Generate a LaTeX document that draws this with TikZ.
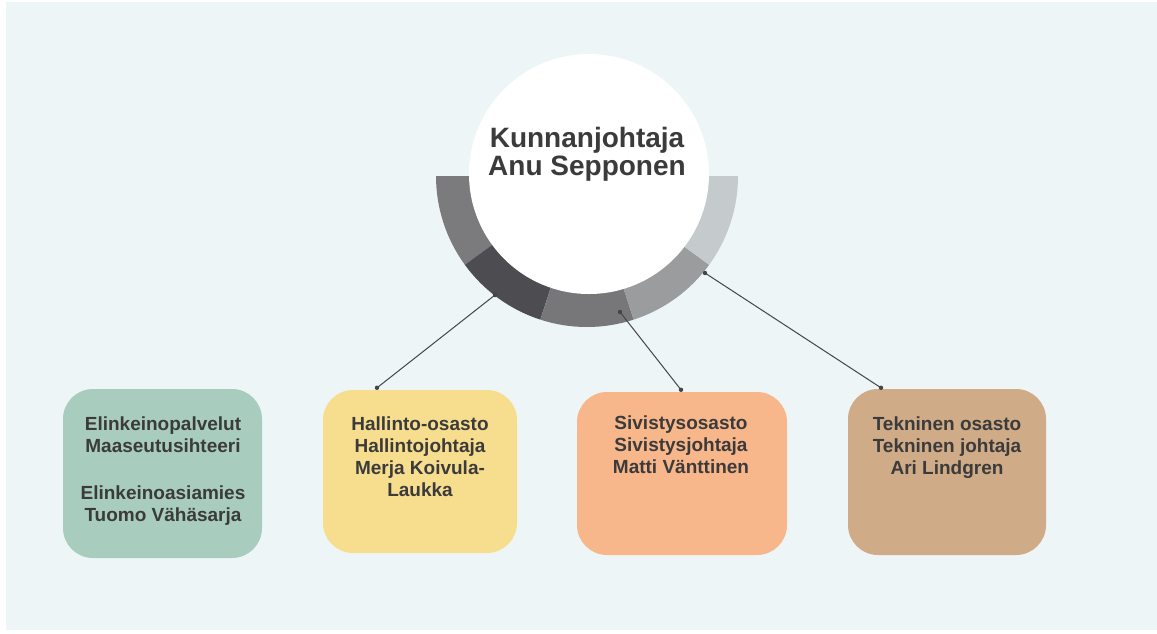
\documentclass[tikz,border=0pt]{standalone}
\usepackage{fontspec}
\setmainfont{Liberation Sans}
\usetikzlibrary{calc}
\definecolor{bg}{HTML}{EDF5F7}
\definecolor{txt}{HTML}{3B3B3B}
\definecolor{segA}{HTML}{7B7B7E}
\definecolor{segB}{HTML}{4D4C50}
\definecolor{segC}{HTML}{77777A}
\definecolor{segD}{HTML}{9A9C9E}
\definecolor{segE}{HTML}{C5CACC}
\definecolor{boxgreen}{HTML}{A8CCBD}
\definecolor{boxyellow}{HTML}{F7DE8F}
\definecolor{boxorange}{HTML}{F8B68B}
\definecolor{boxtan}{HTML}{CFAB87}
\definecolor{linec}{HTML}{454547}
\tikzset{
  deptbox/.style={draw=none, rounded corners=30pt, inner sep=0pt},
  depttext/.style={anchor=north, inner sep=0pt, align=center, text=txt,
    font=\fontsize{19}{22}\selectfont\bfseries},
  conn/.style={draw=linec, line width=1pt},
  dotc/.style={fill=linec}
}
\begin{document}
\begin{tikzpicture}[x=1pt,y=-1pt]
\useasboundingbox (0,0) rectangle (1157,633);
\fill[white] (0,0) rectangle (1157,633);
\fill[bg] (6,2) rectangle (1157,630);

% ring segments
\coordinate (rc) at (587,176);
\foreach \a/\b/\c in {180/144/segA,144/108/segB,108/72/segC,72/36/segD,36/0/segE}{
  \fill[\c] ($(rc)+(\a:151)$) arc[start angle=\a, end angle=\b, radius=151]
    -- ($(rc)+(\b:105)$) arc[start angle=\b, end angle=\a, radius=105] -- cycle;
}

% head circle
\node[circle, fill=white, minimum size=240pt, inner sep=0pt] (head) at (589,174) {};
\node[anchor=north, inner sep=0pt, align=center, text=txt,
  font=\fontsize{28}{28}\selectfont\bfseries] (title) at (587,127.5)
  {Kunnanjohtaja\\Anu Sepponen};

% department boxes
\node[deptbox, fill=boxgreen, minimum width=199pt, minimum height=169pt] (b1) at (162.5,473.5) {};
\node[deptbox, fill=boxyellow, minimum width=194pt, minimum height=163pt] (b2) at (420,471.5) {};
\node[deptbox, fill=boxorange, minimum width=210pt, minimum height=163pt] (b3) at (682,473.5) {};
\node[deptbox, fill=boxtan, minimum width=198pt, minimum height=166pt] (b4) at (947,472) {};

\node[depttext] (t1) at (163,417) {Elinkeinopalvelut\\Maaseutusihteeri\\[25pt]Elinkeinoasiamies\\Tuomo Vähäsarja};
\node[depttext] (t2) at (420,417) {Hallinto-osasto\\Hallintojohtaja\\Merja Koivula-\\Laukka};
\node[depttext] (t3) at (681,416) {Sivistysosasto\\Sivistysjohtaja\\Matti Vänttinen};
\node[depttext] (t4) at (947,417) {Tekninen osasto\\Tekninen johtaja\\Ari Lindgren};

% connectors
\coordinate (d1) at (495,295);
\coordinate (d2) at (620,312);
\coordinate (d3) at (705,273);
\coordinate (e1) at ($(b2.north)+(-43,-2)$);
\coordinate (e2) at ($(b3.north)+(-1,-2)$);
\coordinate (e3) at ($(b4.north)+(-66,-1)$);
\draw[conn] (d1) -- (e1);
\draw[conn] (d2) -- (e2);
\draw[conn] (d3) -- (e3);
\foreach \p in {d1,d2,d3,e1,e2,e3}{ \fill[dotc] (\p) circle (2.2); }
\end{tikzpicture}
\end{document}
